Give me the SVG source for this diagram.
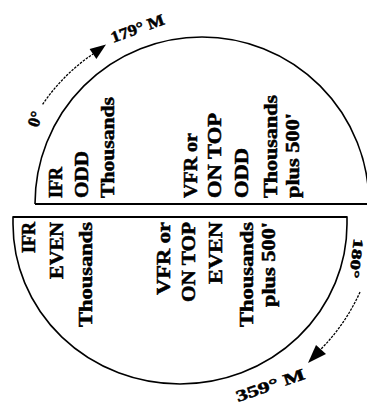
<svg xmlns="http://www.w3.org/2000/svg" width="367" height="406" viewBox="0 0 367 406">
<style>
.shape{fill:none;stroke:#000;stroke-width:1.6}
.arc{fill:none;stroke:#000;stroke-width:1.3;stroke-dasharray:2.5 1.2}
.t{font-family:"Liberation Serif","Times New Roman",serif;font-weight:bold;fill:#000;stroke:#000;stroke-width:0.5}
.top{font-size:18px}
.bot{font-size:18px;text-anchor:end}
.lbl{font-size:16px}
</style>
<rect width="367" height="406" fill="#fff"/>
<g id="north-half">
<path class="shape" d="M35,204 A167,167 0 0 1 369,204 L35,204"/>
<line x1="35" y1="204" x2="367" y2="204" stroke="#000" stroke-width="2"/>
<text class="t top" transform="translate(62,198) rotate(-90)" textLength="31" lengthAdjust="spacingAndGlyphs">IFR</text>
<text class="t top" transform="translate(88,198) rotate(-90)" textLength="47" lengthAdjust="spacingAndGlyphs">ODD</text>
<text class="t top" transform="translate(114,198) rotate(-90)" textLength="101" lengthAdjust="spacingAndGlyphs">Thousands</text>
<text class="t top" transform="translate(197,198) rotate(-90)" textLength="65" lengthAdjust="spacingAndGlyphs">VFR or</text>
<text class="t top" transform="translate(221,198) rotate(-90)" textLength="85" lengthAdjust="spacingAndGlyphs">ON TOP</text>
<text class="t top" transform="translate(248,198) rotate(-90)" textLength="50" lengthAdjust="spacingAndGlyphs">ODD</text>
<text class="t top" transform="translate(277,198) rotate(-90)" textLength="103" lengthAdjust="spacingAndGlyphs">Thousands</text>
<text class="t top" transform="translate(299,198) rotate(-90)" textLength="85" lengthAdjust="spacingAndGlyphs">plus 500'</text>
</g>
<g id="south-half">
<path class="shape" d="M13,217 H347 V224 A167,160 0 0 1 13,224 Z"/>
<line x1="13" y1="217" x2="347" y2="217" stroke="#000" stroke-width="2"/>
<text class="t bot" transform="translate(35,222) rotate(-90)" textLength="31" lengthAdjust="spacingAndGlyphs">IFR</text>
<text class="t bot" transform="translate(63,222) rotate(-90)" textLength="57" lengthAdjust="spacingAndGlyphs">EVEN</text>
<text class="t bot" transform="translate(92,222) rotate(-90)" textLength="105" lengthAdjust="spacingAndGlyphs">Thousands</text>
<text class="t bot" transform="translate(170,222) rotate(-90)" textLength="73" lengthAdjust="spacingAndGlyphs">VFR or</text>
<text class="t bot" transform="translate(195,222) rotate(-90)" textLength="80" lengthAdjust="spacingAndGlyphs">ON TOP</text>
<text class="t bot" transform="translate(222,222) rotate(-90)" textLength="62" lengthAdjust="spacingAndGlyphs">EVEN</text>
<text class="t bot" transform="translate(253,222) rotate(-90)" textLength="105" lengthAdjust="spacingAndGlyphs">Thousands</text>
<text class="t bot" transform="translate(275,222) rotate(-90)" textLength="85" lengthAdjust="spacingAndGlyphs">plus 500'</text>
</g>
<g id="connectors">
<path class="arc" d="M42.6,104.4 A187,187 0 0 1 93,54"/>
<polygon points="106,44.5 96.4,59 89.6,49" fill="#000"/>
<path class="arc" d="M360,292 A193,193 0 0 1 321,349"/>
<polygon points="308,363 316,345 326,354" fill="#000"/>
</g>
<g id="labels">
<text class="t lbl" transform="translate(38,128) rotate(-72)" style="font-size:17px">0°</text>
<text class="t lbl" transform="translate(113,43) rotate(-20)" textLength="56" lengthAdjust="spacingAndGlyphs">179° M</text>
<text class="t lbl" transform="translate(354,238) rotate(97)" textLength="40" lengthAdjust="spacingAndGlyphs" style="font-size:14px">180°</text>
<text class="t lbl" transform="translate(238,402) rotate(-19)" textLength="72" lengthAdjust="spacingAndGlyphs">359° M</text>
</g>
</svg>
